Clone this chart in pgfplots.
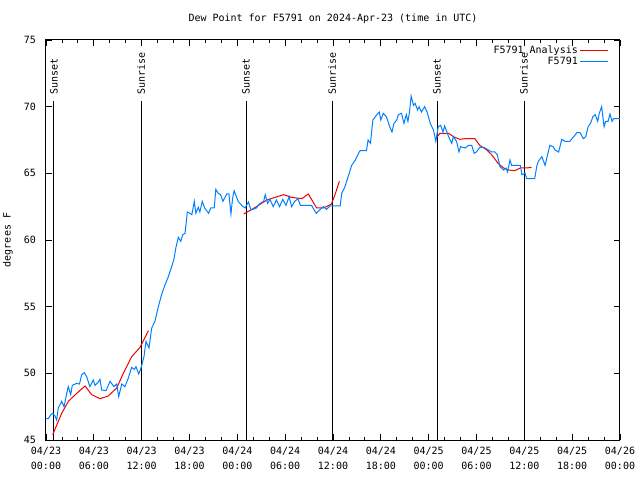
\documentclass[border=0pt]{standalone}
\usepackage{fontspec}
\setmainfont{DejaVu Sans Mono}
\usepackage{pgfplots}
\pgfplotsset{compat=1.18}
\definecolor{blu}{RGB}{0,128,255}
\definecolor{rd}{RGB}{240,0,0}
\begin{document}
\fontsize{10bp}{12bp}\selectfont
\begin{tikzpicture}
\path[use as bounding box] (0,0) rectangle (640bp,480bp);
\begin{axis}[
  at={(46bp,40bp)}, anchor=south west,
  scale only axis, width=574bp, height=400bp,
  xmin=0, xmax=72, ymin=45, ymax=75,
  xtick={0,6,...,72},
  xticklabels={04/23\\00:00,04/23\\06:00,04/23\\12:00,04/23\\18:00,04/24\\00:00,04/24\\06:00,04/24\\12:00,04/24\\18:00,04/25\\00:00,04/25\\06:00,04/25\\12:00,04/25\\18:00,04/26\\00:00},
  minor x tick num=2,
  ytick={45,50,...,75},
  tick align=inside,
  major tick length=6bp, minor tick length=3bp,
  tick style={black, line width=0.8bp},
  axis line style={line width=1bp},
  /pgf/number format/assume math mode=true,
  xticklabel style={align=center, inner sep=0pt, yshift=-7bp, font=\fontsize{10bp}{15bp}\selectfont},
  yticklabel style={inner sep=0pt, anchor=east, xshift=-10bp, font=\fontsize{10bp}{12bp}\selectfont},
  legend style={at={(1,1)}, anchor=north east, draw=none, fill=none, xshift=-8bp, yshift=-2bp,
    font=\fontsize{10bp}{11bp}\selectfont, row sep=-2bp},
  legend plot pos=right, legend cell align=right,
  legend image code/.code={\draw[#1] (0bp,0bp) -- (28bp,0bp);},
]
\addplot[black, line width=1bp, forget plot] coordinates {(1.0,45) (1.0,70.4)};
\addplot[black, line width=1bp, forget plot] coordinates {(11.92,45) (11.92,70.4)};
\addplot[black, line width=1bp, forget plot] coordinates {(25.09,45) (25.09,70.4)};
\addplot[black, line width=1bp, forget plot] coordinates {(35.88,45) (35.88,70.4)};
\addplot[black, line width=1bp, forget plot] coordinates {(49.05,45) (49.05,70.4)};
\addplot[black, line width=1bp, forget plot] coordinates {(59.96,45) (59.96,70.4)};
\node[rotate=90, anchor=west, inner sep=0pt] at (axis cs:1.0,70.9) {Sunset};
\node[rotate=90, anchor=west, inner sep=0pt] at (axis cs:11.92,70.9) {Sunrise};
\node[rotate=90, anchor=west, inner sep=0pt] at (axis cs:25.09,70.9) {Sunset};
\node[rotate=90, anchor=west, inner sep=0pt] at (axis cs:35.88,70.9) {Sunrise};
\node[rotate=90, anchor=west, inner sep=0pt] at (axis cs:49.05,70.9) {Sunset};
\node[rotate=90, anchor=west, inner sep=0pt] at (axis cs:59.96,70.9) {Sunrise};
\addplot[rd, line width=1bp, unbounded coords=jump] coordinates {
(0.84,45.4) (1.97,47.0) (2.8,47.9) (3.85,48.5) (4.9,49.05) (5.73,48.4) (6.77,48.1) (7.8,48.3) (8.87,48.9) (9.7,50.0) (10.75,51.25) (11.8,51.95) (12.84,53.2)
(18,nan)
(24.8,61.95) (26.4,62.5) (27.7,63.0) (29.8,63.4) (30.8,63.2) (32.1,63.1) (32.9,63.45) (33.95,62.4) (34.8,62.4) (35.8,62.7) (36.25,63.4) (36.8,64.4)
(42,nan)
(48.9,67.6) (49.4,68.0) (50.5,68.0) (51.1,67.75) (51.9,67.55) (52.6,67.6) (53.8,67.6) (54.4,67.1) (55.3,66.75) (55.9,66.4) (56.7,65.75) (57.4,65.4) (58.0,65.25) (58.8,65.2) (59.5,65.4) (60.3,65.4) (60.9,65.45)
};
\addlegendentry{F5791 Analysis}
\addplot[blu, line width=1bp] coordinates {
(0.0,46.6) (0.29,46.6) (0.6,46.9) (0.84,47.0) (1.13,46.8) (1.34,46.5) (1.54,47.4) (1.97,47.9) (2.26,47.5) (2.6,48.5) (2.8,49.0) (3.1,48.4) (3.3,49.1) (3.85,49.25) (4.2,49.2) (4.48,49.9) (4.8,50.05) (5.1,49.75) (5.5,49.0) (5.93,49.5) (6.15,49.1) (6.5,49.3) (6.77,49.55) (6.99,48.75) (7.53,48.7) (8.03,49.4) (8.53,49.0) (8.87,49.2) (9.12,48.25) (9.5,49.2) (9.9,49.0) (10.3,49.6) (10.75,50.45) (11.08,50.3) (11.29,50.5) (11.63,49.95) (11.92,50.4) (12.29,51.25) (12.54,52.4) (12.92,51.9) (13.26,53.4) (13.67,53.9) (14.09,55.0) (14.5,55.9) (14.9,56.6) (15.35,57.25) (15.77,58.0) (16.06,58.6) (16.3,59.45) (16.6,60.2) (16.9,59.9) (17.15,60.4) (17.44,60.5) (17.73,62.1) (18.06,62.0) (18.3,61.9) (18.6,62.9) (18.8,62.0) (19.1,62.45) (19.3,62.1) (19.6,62.9) (19.9,62.4) (20.4,62.0) (20.66,62.4) (21.1,62.4) (21.3,63.8) (21.6,63.5) (21.9,63.4) (22.2,62.9) (22.67,63.45) (22.95,63.45) (23.2,61.95) (23.4,63.1) (23.6,63.7) (24.1,62.9) (24.55,62.6) (24.96,62.4) (25.4,62.85) (25.7,62.25) (26.4,62.4) (26.75,62.7) (27.3,62.9) (27.5,63.4) (27.8,62.75) (28.1,63.05) (28.5,62.5) (28.9,63.0) (29.3,62.5) (29.7,63.05) (30.1,62.6) (30.5,63.25) (30.8,62.5) (31.2,62.9) (31.6,63.1) (31.9,62.6) (33.3,62.6) (33.9,62.0) (34.4,62.3) (34.8,62.5) (35.2,62.3) (35.6,62.55) (36.9,62.55) (37.1,63.5) (37.5,64.0) (37.9,64.75) (38.35,65.6) (38.8,66.0) (39.2,66.5) (39.4,66.7) (40.2,66.7) (40.4,67.5) (40.7,67.25) (41.0,69.0) (41.5,69.4) (41.8,69.6) (42.0,69.0) (42.3,69.5) (42.7,69.25) (43.1,68.5) (43.4,68.1) (43.65,68.75) (44.0,69.0) (44.2,69.4) (44.6,69.5) (44.9,68.75) (45.2,69.4) (45.4,68.9) (45.6,69.6) (45.8,70.8) (46.1,70.1) (46.3,70.25) (46.6,69.75) (46.8,70.0) (47.1,69.6) (47.5,70.0) (47.8,69.6) (48.2,68.75) (48.6,68.25) (48.9,67.4) (49.2,68.5) (49.5,68.6) (49.8,68.1) (50.0,68.55) (50.5,67.75) (50.9,67.25) (51.1,67.75) (51.5,67.4) (51.8,66.6) (52.0,67.0) (52.6,66.9) (53.0,67.1) (53.4,67.1) (53.7,66.5) (54.0,66.6) (54.4,66.95) (54.9,66.95) (55.5,66.75) (55.9,66.6) (56.3,66.6) (56.6,66.4) (56.95,65.5) (57.4,65.25) (57.7,65.4) (57.9,65.1) (58.2,66.0) (58.4,65.6) (59.5,65.6) (59.7,64.9) (60.1,65.0) (60.3,64.6) (61.3,64.6) (61.55,65.5) (61.75,65.9) (62.2,66.25) (62.6,65.6) (62.8,66.1) (63.2,67.1) (63.6,67.0) (63.85,66.75) (64.3,66.6) (64.7,67.55) (65.1,67.4) (65.7,67.4) (66.2,67.75) (66.6,68.05) (67.0,68.05) (67.4,67.6) (67.7,67.75) (68.0,68.5) (68.3,68.75) (68.6,69.25) (68.9,69.4) (69.2,68.9) (69.4,69.5) (69.7,70.0) (70.0,68.5) (70.2,68.9) (70.5,68.9) (70.75,69.45) (71.0,68.9) (71.2,69.1) (72.0,69.1)
};
\addlegendentry{F5791}
\end{axis}
\node at (333bp,461bp) {Dew Point for F5791 on 2024-Apr-23 (time in UTC)};
\node[rotate=90] at (8bp,240bp) {degrees F};
\end{tikzpicture}
\end{document}
